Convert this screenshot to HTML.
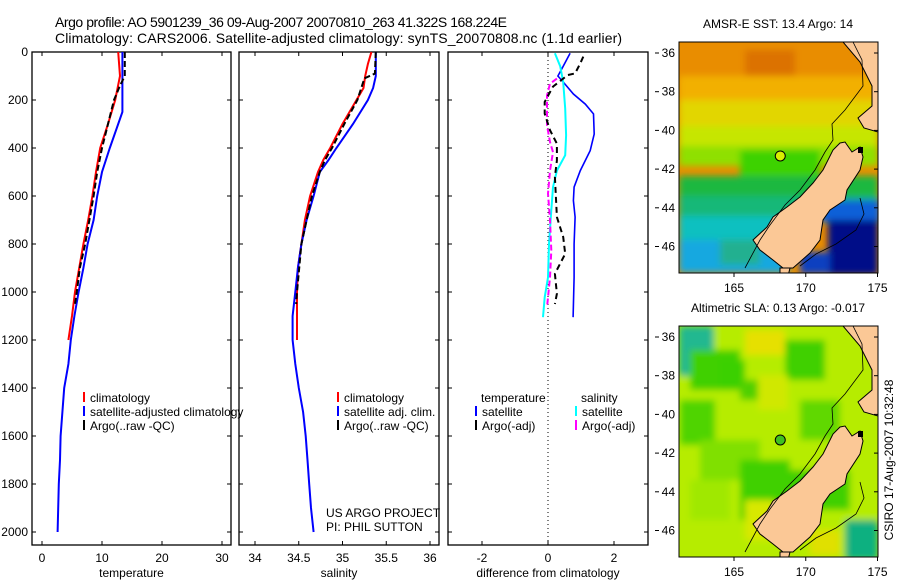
<!DOCTYPE html>
<html><head><meta charset="utf-8"><style>
body{margin:0;background:#fff}
svg{display:block;font-family:"Liberation Sans",sans-serif}
</style></head><body>
<svg id="fig" width="900" height="580" viewBox="0 0 900 580" xmlns="http://www.w3.org/2000/svg">
<defs>
<filter id="bl" x="-20%" y="-20%" width="140%" height="140%"><feGaussianBlur stdDeviation="3.5"/></filter>
<clipPath id="clipTop"><rect x="679" y="42" width="199" height="231"/></clipPath>
<clipPath id="clipBot"><rect x="679" y="326" width="199" height="231"/></clipPath>
</defs>
<rect width="900" height="580" fill="#fff"/>
<text x="55" y="27" font-size="14" textLength="452">Argo profile: AO 5901239_36 09-Aug-2007 20070810_263 41.322S 168.224E</text>
<text x="55" y="43" font-size="14" textLength="567">Climatology: CARS2006. Satellite-adjusted climatology: synTS_20070808.nc (1.1d earlier)</text>
<g id="panels"></g>
<g id="maps"></g>
<text transform="translate(893,460) rotate(-90)" font-size="12" text-anchor="middle">CSIRO 17-Aug-2007 10:32:48</text>
</svg>
<script>
// ---------- data ----------
const depthTicks=[0,200,400,600,800,1000,1200,1400,1600,1800,2000];
const tempTicks=[0,10,20,30];
const salTicks=[34,34.5,35,35.5,36];
const salTickLabels=["34","34.5","35","35.5","36"];
const diffTicks=[-2,0,2];
// temperature panel
const tClimDepth=[0,100,200,300,400,500,600,700,800,900,1000,1100,1200];
const tClim=[12.7,13.0,12.2,11.0,9.7,9.0,8.4,7.7,6.9,6.2,5.5,5.0,4.4];
const tSatDepth=[0,250,300,400,500,600,700,800,900,1000,1100,1200,1300,1400,1500,1600,1700,1800,1900,2000];
const tSat=[13.4,13.4,12.7,11.3,10.0,9.2,8.6,7.6,6.9,6.1,5.4,4.8,4.4,3.7,3.4,3.1,3.0,2.8,2.7,2.6];
const tArgoDepth=[0,100,140,200,300,400,500,600,700,800,900,1000,1050];
const tArgo=[13.8,13.8,13.0,12.0,11.0,10.0,9.2,8.6,7.9,7.2,6.3,5.8,5.5];
// salinity panel
const sClimDepth=[0,50,100,150,200,300,400,450,500,600,700,800,900,1000,1200];
const sClim=[35.33,35.29,35.26,35.24,35.16,35.0,34.86,34.78,34.72,34.63,34.57,34.53,34.49,34.48,34.48];
const sSatDepth=[0,100,150,200,300,400,450,500,600,700,800,900,1000,1100,1200,1300,1400,1500,1600,1700,1800,1900,2000];
const sSat=[35.38,35.38,35.35,35.29,35.12,34.93,34.84,34.74,34.67,34.59,34.53,34.49,34.46,34.43,34.43,34.46,34.5,34.55,34.58,34.6,34.62,34.64,34.67];
const sArgoDepth=[0,90,110,200,300,400,450,500,600,800,1000,1050];
const sArgo=[35.38,35.37,35.25,35.17,35.02,34.88,34.8,34.74,34.65,34.53,34.48,34.47];
// difference panel
const dTSatDepth=[5,59,100,125,175,217,258,342,411,494,563,619,688,800,939,1105];
const dTSat=[0.67,0.46,0.3,0.46,0.77,1.13,1.38,1.4,1.28,0.98,0.79,0.77,0.82,0.79,0.79,0.76];
const dTArgoDepth=[19,47,89,96,144,208,257,326,382,452,521,688,771,841,924,1007,1050];
const dTArgo=[1.07,0.98,0.82,0.6,0.15,-0.1,-0.1,0.06,0.27,0.27,0.21,0.27,0.46,0.52,0.21,0.27,0.21];
const dSSatDepth=[5,59,125,236,347,430,494,563,660,800,939,1022,1105];
const dSSat=[0.21,0.37,0.46,0.52,0.55,0.52,0.27,0.15,0.1,0.03,0,-0.1,-0.15];
const dSArgoDepth=[111,132,181,306,375,417,494,590,700,827,939,1064];
const dSArgo=[0.27,0.06,-0.03,-0.03,0.06,0.15,0.06,0,0.06,0.1,0.06,-0.03];
// maps
const lonTicks=[165,170,175];
const latTicks=[-36,-38,-40,-42,-44,-46];
const argoLon=168.224, argoLat=-41.322;

const NS="http://www.w3.org/2000/svg";
const P=document.getElementById('panels');
function mk(tag,attrs,parent){const e=document.createElementNS(NS,tag);for(const k in attrs)e.setAttribute(k,attrs[k]);(parent||P).appendChild(e);return e;}
const yD=d=>52+d*0.24;
const panels=[
 {x0:32,x1:231,xs:v=>42+v*6,ticks:tempTicks,labels:tempTicks.map(String),title:"temperature",name:"temperature-panel"},
 {x0:239,x1:439,xs:v=>255+(v-34)*87.5,ticks:salTicks,labels:salTickLabels,title:"salinity",name:"salinity-panel"},
 {x0:448,x1:648,xs:v=>548+v*33,ticks:diffTicks,labels:diffTicks.map(String),title:"difference from climatology",name:"difference-panel"}
];
panels.forEach((p,i)=>{
 const g=mk('g',{});
 
 
 const r=mk('rect',{x:p.x0,y:52,width:p.x1-p.x0,height:493,fill:'none',stroke:'#000','stroke-width':1.3},g);
 
 
 p.ticks.forEach((t,j)=>{
  const x=p.xs(t);
  mk('line',{x1:x,x2:x,y1:545,y2:541,stroke:'#000'},g);
  mk('line',{x1:x,x2:x,y1:52,y2:56,stroke:'#000'},g);
  const tl=mk('text',{x:x,y:562,'font-size':12,'text-anchor':'middle'},g);
  tl.textContent=p.labels[j];
  
  
 });
 depthTicks.forEach(d=>{
  mk('line',{x1:p.x0,x2:p.x0+4,y1:yD(d),y2:yD(d),stroke:'#000'},g);
  mk('line',{x1:p.x1,x2:p.x1-4,y1:yD(d),y2:yD(d),stroke:'#000'},g);
  if(i===0){const tl=mk('text',{x:28,y:yD(d)+4,'font-size':12,'text-anchor':'end'},g);tl.textContent=String(d);
   
   }
 });
 const at=mk('text',{x:(p.x0+p.x1)/2,y:577,'font-size':12,'text-anchor':'middle'},g);
 at.textContent=p.title;
 
 
 p.g=g;
});
function line(p,depths,vals,color,w,dash,name){
 const pts=depths.map((d,k)=>p.xs(vals[k]).toFixed(1)+','+yD(d).toFixed(1)).join(' ');
 const e=mk('polyline',{points:pts,fill:'none',stroke:color,'stroke-width':w},p.g);
 if(dash)e.setAttribute('stroke-dasharray',dash);
 
 
}
const [pT,pS,pD]=panels;
const zl=mk('line',{x1:pD.xs(0),x2:pD.xs(0),y1:52,y2:545,stroke:'#000','stroke-width':1,'stroke-dasharray':'1,3'},pD.g);


line(pT,tClimDepth,tClim,'#f00',2,null,'temp-climatology-line');
line(pT,tSatDepth,tSat,'#00f',2,null,'temp-satellite-line');
line(pT,tArgoDepth,tArgo,'#000',2,'6,3','temp-argo-line');
line(pS,sClimDepth,sClim,'#f00',2,null,'sal-climatology-line');
line(pS,sSatDepth,sSat,'#00f',2,null,'sal-satellite-line');
line(pS,sArgoDepth,sArgo,'#000',2,'6,3','sal-argo-line');
line(pD,dTSatDepth,dTSat,'#00f',1.6,null,'diff-temp-satellite-line');
line(pD,dSSatDepth,dSSat,'#0ff',2,null,'diff-sal-satellite-line');
line(pD,dSArgoDepth,dSArgo,'#f0f',2,'6,3','diff-sal-argo-line');
line(pD,dTArgoDepth,dTArgo,'#000',2,'6,4','diff-temp-argo-line');
function legend(g,x,y,color,label){
 const gg=mk('g',{},g);
 
 
 if(color)mk('rect',{x:x-7,y:y-10,width:2,height:10,fill:color},gg);
 const t=mk('text',{x:x,y:y,'font-size':12},gg);t.textContent=label;
}
legend(pT.g,90,402,'#f00','climatology');
legend(pT.g,90,416,'#00f','satellite-adjusted climatology');
legend(pT.g,90,430,'#000','Argo(..raw -QC)');
legend(pS.g,344,402,'#f00','climatology');
legend(pS.g,344,416,'#00f','satellite adj. clim.');
legend(pS.g,344,430,'#000','Argo(..raw -QC)');
legend(pD.g,481,402,null,'temperature');
legend(pD.g,482,416,'#00f','satellite');
legend(pD.g,482,430,'#000','Argo(-adj)');
legend(pD.g,581,402,null,'salinity');
legend(pD.g,582,416,'#0ff','satellite');
legend(pD.g,582,430,'#f0f','Argo(-adj)');
const c1=mk('text',{x:326,y:517,'font-size':12},pS.g);c1.textContent='US ARGO PROJECT';


const c2=mk('text',{x:326,y:531,'font-size':12},pS.g);c2.textContent='PI: PHIL SUTTON';



// ---------- maps ----------
const M=document.getElementById('maps');
const lonX=l=>734+(l-165)*14.35;
const sstBlobs=[
 [679,42,199,36,'#e98d00'],[745,50,50,35,'#dc7200'],[679,76,199,28,'#f2b000'],[679,100,199,28,'#e2d600'],
 [679,126,199,22,'#c6e600'],[679,146,199,20,'#8fe000'],[740,150,80,30,'#3cd200'],[679,176,199,22,'#1ab840'],
 [679,196,199,22,'#18b878'],[679,216,110,25,'#10c0c0'],[679,240,110,33,'#18a8e0'],[720,240,40,25,'#20b090'],
 [820,200,60,22,'#1060d8'],[828,220,50,55,'#000c88'],[800,252,30,22,'#0a40c0']];
const slaBlobs=[
 [679,326,199,231,'#b6ec00'],[679,326,35,50,'#20b890'],[690,350,50,40,'#40d000'],[720,360,25,30,'#3ad000'],
 [745,330,40,25,'#e6e000'],[740,380,30,20,'#50d000'],[785,340,40,40,'#40d000'],[680,400,35,45,'#50d400'],
 [700,440,60,40,'#80e000'],[740,460,50,60,'#40d000'],[790,470,60,40,'#40d000'],[690,480,40,40,'#a0e800'],
 [845,520,33,40,'#10b080'],[745,500,30,40,'#d8e800'],[758,375,30,35,'#d0e800'],[800,400,40,40,'#60d800'],[810,530,30,25,'#e0e000']];
function drawMap(y0,off,blobs,title,name){
 const g=mk('g',{},M);
 
 
 const f=mk('g',{'clip-path':off?'url(#clipBot)':'url(#clipTop)'},g);
 mk('rect',{x:679,y:y0,width:199,height:231,fill:blobs[0][4]},f);
 const fb=mk('g',{filter:'url(#bl)'},f);
 blobs.forEach(b=>{const r=mk('rect',{x:b[0],y:b[1],width:b[2],height:b[3],fill:b[4]},fb);
  
  });
 const land=mk('g',{transform:'translate(0,'+off+')'},f);
 const si=mk('polygon',{points:'840,143 845,142 852,152 860,147 863,157 860,170 847,190 845,200 830,210 823,220 820,240 810,253 793,268 783,268 773,260 760,250 753,240 767,227 773,217 787,207 800,197 813,183 823,170 833,150',fill:'#fbc896',stroke:'#000','stroke-width':1},land);
 
 
 const ni=mk('polygon',{points:'843,42 878,42 878,132 864,128 858,118 872,106 872,86 860,62',fill:'#fbc896',stroke:'#000','stroke-width':1},land);
 
 
 mk('polygon',{points:'780,268 790,268 788,276 780,276',fill:'#fbc896',stroke:'#000'},land);
 mk('rect',{x:858,y:147,width:5,height:6,fill:'#000'},land);
 mk('polyline',{points:'853,42 862,60 863,86 845,110 832,124 833,140 825,152 815,170 800,190 785,205 770,225 760,240 745,268',fill:'none',stroke:'#000','stroke-width':0.8},land);
 mk('polyline',{points:'860,198 864,214 856,230 836,244 816,254 800,266',fill:'none',stroke:'#000','stroke-width':0.8},land);
 const fr=mk('rect',{x:679,y:y0,width:199,height:231,fill:'none',stroke:'#000'},g);
 
 
 const latY=l=>53+off+(-36-l)*19.35;
 latTicks.forEach(l=>{
  mk('line',{x1:655,x2:659,y1:latY(l),y2:latY(l),stroke:'#000'},g);
  mk('line',{x1:878,x2:874,y1:latY(l),y2:latY(l),stroke:'#000'},g);
  const t=mk('text',{x:675,y:latY(l)+4,'font-size':12,'text-anchor':'end'},g);t.textContent=String(-l);
  
  
 });
 lonTicks.forEach(l=>{
  mk('line',{x1:lonX(l),x2:lonX(l),y1:y0+231,y2:y0+235,stroke:'#000'},g);
  const t=mk('text',{x:lonX(l),y:y0+250,'font-size':12,'text-anchor':'middle'},g);t.textContent=String(l);
  
  
 });
 const tt=mk('text',{x:778,y:y0-14,'font-size':12,'text-anchor':'middle'},g);tt.textContent=title;
 
 
 const m=mk('circle',{cx:lonX(argoLon),cy:latY(argoLat),r:5,fill:off?'#40c020':'#d8f000',stroke:'#000'},g);
 
 
}
drawMap(42,0,sstBlobs,'AMSR-E SST: 13.4 Argo: 14','sst-map');
drawMap(326,284,slaBlobs,'Altimetric SLA: 0.13 Argo: -0.017','sla-map');
</script>
</body></html>
